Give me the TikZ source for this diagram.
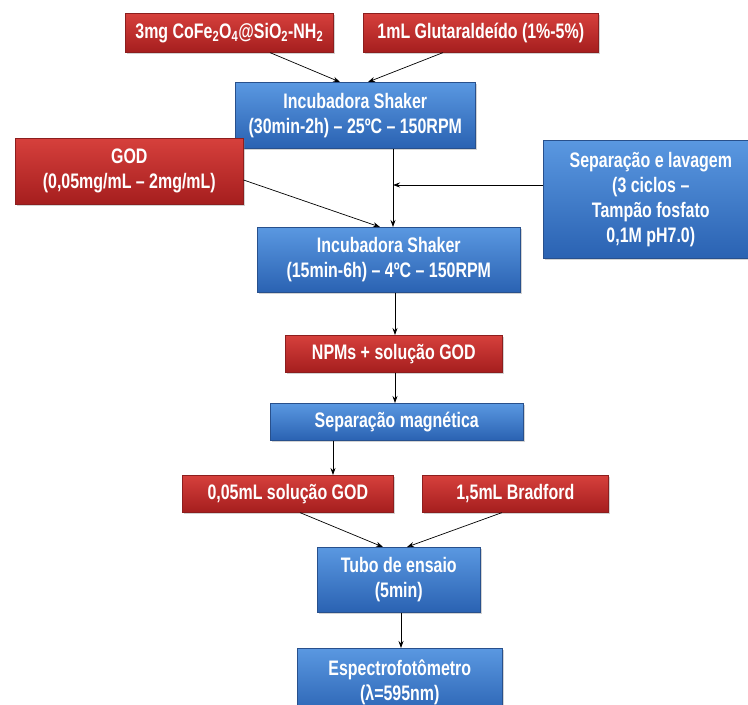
\documentclass[tikz,border=0pt]{standalone}
\usepackage{fontspec}
\setmainfont{Liberation Sans}[FakeStretch=0.76]
\usetikzlibrary{shadows,arrows.meta}
\definecolor{redtop}{RGB}{214,64,60}
\definecolor{redbot}{RGB}{165,30,30}
\definecolor{redline}{RGB}{140,30,30}
\definecolor{bluetop}{RGB}{90,152,225}
\definecolor{bluebot}{RGB}{42,98,178}
\definecolor{blueline}{RGB}{40,80,140}
\tikzset{
  box/.style={rectangle, anchor=north west, inner sep=0pt, align=center, text=white,
    font=\fontsize{21}{25}\selectfont\bfseries, line width=0.6pt,
    drop shadow={opacity=0.35, shadow xshift=2pt, shadow yshift=-2pt}},
  redbox/.style={box, top color=redtop, bottom color=redbot, draw=redline},
  bluebox/.style={box, top color=bluetop, bottom color=bluebot, draw=blueline},
  sz/.style 2 args={minimum width=#1pt, minimum height=#2pt},
  arr/.style={-{Stealth[length=7pt,width=5pt]}, line width=0.7pt, black}
}
\begin{document}
\begin{tikzpicture}[x=1pt,y=-1pt]
\useasboundingbox (0,0) rectangle (748,705);
\node[redbox, sz={208}{39}] (b1) at (125,13) {3mg CoFe\textsubscript{2}O\textsubscript{4}@SiO\textsubscript{2}-NH\textsubscript{2}};
\node[redbox, sz={235}{39}] (b2) at (363,13) {1mL Glutaraldeído (1\%-5\%)};
\node[bluebox, sz={240}{66}] (b3) at (235,82) {Incubadora Shaker\\(30min-2h) – 25ºC – 150RPM};
\node[redbox, sz={228}{66}] (god) at (15,138) {GOD\\(0,05mg/mL – 2mg/mL)};
\node[bluebox, sz={215}{118}] (sep) at (543,140) {Separação e lavagem\\(3 ciclos –\\Tampão fosfato\\0,1M pH7.0)};
\node[bluebox, sz={263}{65}] (b4) at (257,227) {Incubadora Shaker\\(15min-6h) – 4ºC – 150RPM};
\node[redbox, sz={217}{37}] (npm) at (285,335) {NPMs + solução GOD};
\node[bluebox, sz={253}{37}] (mag) at (270,403) {Separação magnética};
\node[redbox, sz={211}{37}] (sol) at (182,475) {0,05mL solução GOD};
\node[redbox, sz={186}{37}] (brad) at (422,475) {1,5mL Bradford};
\node[bluebox, sz={163}{65}] (tubo) at (317,547) {Tubo de ensaio\\(5min)};
\node[bluebox, sz={205}{68}] (esp) at (297,648) {Espectrofotômetro\\(λ=595nm)};
% connectors
\coordinate (j) at (393,185);
\draw[arr] ([xshift=145pt]b1.south west) -- ([xshift=105pt]b3.north west);
\draw[arr] ([xshift=80pt]b2.south west) -- ([xshift=133pt]b3.north west);
\draw[arr] ([xshift=158pt]b3.south west) -- ([xshift=136pt]b4.north west);
\draw[arr] (sep.west |- j) -- (j);
\draw[arr] ([yshift=-42pt]god.north east) -- ([xshift=123pt]b4.north west);
\draw[arr] ([xshift=138pt]b4.south west) -- ([xshift=110pt]npm.north west);
\draw[arr] ([xshift=110pt]npm.south west) -- ([xshift=125pt]mag.north west);
\draw[arr] ([xshift=63pt]mag.south west) -- ([xshift=151pt]sol.north west);
\draw[arr] ([xshift=118pt]sol.south west) -- ([xshift=66pt]tubo.north west);
\draw[arr] ([xshift=80pt]brad.south west) -- ([xshift=90pt]tubo.north west);
\draw[arr] ([xshift=84pt]tubo.south west) -- ([xshift=104pt]esp.north west);
\end{tikzpicture}
\end{document}
